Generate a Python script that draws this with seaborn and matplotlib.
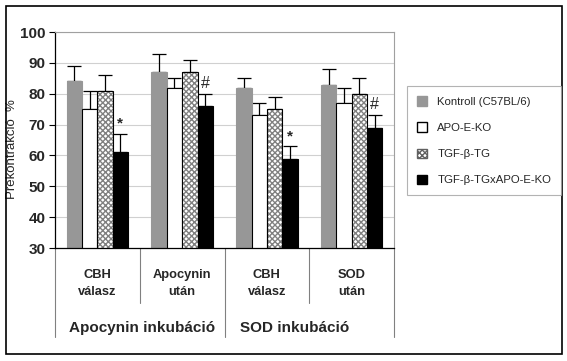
import pandas as pd
import matplotlib.pyplot as plt
import seaborn as sns
from matplotlib.patches import Patch, Rectangle

# Data
categories = ["CBH\nválasz", "Apocynin\nután", "CBH\nválasz ", "SOD\nután"]
groups = ["Kontroll (C57BL/6)", "APO-E-KO", "TGF-β-TG", "TGF-β-TGxAPO-E-KO"]

kontroll = [84, 87, 82, 83]
apoe = [75, 82, 73, 77]
tgf = [81, 87, 75, 80]
tgf_apoe = [61, 76, 59, 69]

kontroll_err = [5, 6, 3, 5]
apoe_err = [6, 3, 4, 5]
tgf_err = [5, 4, 4, 5]
tgf_apoe_err = [6, 4, 4, 4]

marks = ["*", "#", "*", "#"]
group_labels = ["Apocynin inkubáció", "SOD inkubáció"]

values = [kontroll, apoe, tgf, tgf_apoe]
errors = [kontroll_err, apoe_err, tgf_err, tgf_apoe_err]

rows = []
for g, vals in zip(groups, values):
    for c, v in zip(categories, vals):
        rows.append({"Category": c, "Group": g, "Value": v})
df = pd.DataFrame(rows)

sns.set_theme(style="white")
plt.rcParams["font.family"] = ["Liberation Sans", "DejaVu Sans"]

colors = ["#979797", "white", "white", "black"]

fig = plt.figure(figsize=(5.67, 3.61), dpi=100)
ax = fig.add_axes([0.097, 0.313, 0.598, 0.598])

sns.barplot(
    data=df, x="Category", y="Value", hue="Group",
    palette=colors, width=0.725, errorbar=None, legend=False, ax=ax,
    edgecolor="black", linewidth=0.8, zorder=2
)

# Style the bars, add error bars and hatch
bar_groups = list(ax.containers)
for i, cont in enumerate(bar_groups):
    xs = []
    for bar in cont:
        xs.append(bar.get_x() + bar.get_width() / 2)
        if i == 0:
            bar.set_edgecolor("#979797")
        if i == 2:
            bar.set_hatch("xxxxxx")
            bar.set_edgecolor("#808080")
            bar.set_linewidth(0)
            ax.bar(bar.get_x(), bar.get_height(), width=bar.get_width(),
                   align="edge", fill=False, edgecolor="black",
                   linewidth=0.8, zorder=3)
    ax.errorbar(xs, values[i], yerr=[[0] * len(xs), errors[i]], fmt="none",
                ecolor="black", elinewidth=0.9, capsize=5, capthick=0.9,
                zorder=1)
    if i == 3:
        for x, v, e, m in zip(xs, values[i], errors[i], marks):
            ax.text(x, v + e + 1.0, m, ha="center", va="bottom",
                    fontsize=11 if m == "*" else 11.5,
                    fontweight="bold" if m == "*" else "normal")

ax.set_ylim(30, 100)
ax.set_xlim(-0.5, 3.5)
ax.set_yticks(range(30, 101, 10))
ax.set_yticklabels([str(t) for t in range(30, 101, 10)], fontsize=11, fontweight="bold")
ax.yaxis.grid(True, color="#d0d0d0", linewidth=0.8, zorder=0)
ax.set_axisbelow(True)
ax.tick_params(axis="y", left=True, length=4, width=0.8, color="black", pad=3)
ax.tick_params(axis="x", bottom=False, labelbottom=False)
ax.set_xlabel("")
ax.set_ylabel("Prekontrakció  %", fontsize=9.5)
ax.yaxis.set_label_coords(-0.108, 0.46)

for side in ["top", "right"]:
    ax.spines[side].set_color("#a0a0a0")
    ax.spines[side].set_linewidth(0.8)
for side in ["left", "bottom"]:
    ax.spines[side].set_color("black")
    ax.spines[side].set_linewidth(0.9)

# Category table below the axis
trans = ax.get_xaxis_transform()
for x in [-0.5, 1.5, 3.5]:
    ax.plot([x, x], [0, -0.41], transform=trans, clip_on=False, color="#808080", linewidth=0.8)
for x in [0.5, 2.5]:
    ax.plot([x, x], [0, -0.255], transform=trans, clip_on=False, color="#808080", linewidth=0.8)
for i, c in enumerate(categories):
    ax.text(i, -0.165, c.strip(), transform=trans, ha="center", va="center",
            fontsize=9.3, fontweight="bold", linespacing=1.55)
ax.text(0.53, -0.37, group_labels[0], transform=trans, ha="center", va="center",
        fontsize=11, fontweight="bold")
ax.text(2.33, -0.37, group_labels[1], transform=trans, ha="center", va="center",
        fontsize=11, fontweight="bold")

# Legend
handles = [
    Patch(facecolor="#979797", edgecolor="#979797"),
    Patch(facecolor="white", edgecolor="black"),
    Patch(facecolor="white", edgecolor="#606060", hatch="xxxxxx"),
    Patch(facecolor="black", edgecolor="black"),
]
leg = fig.legend(handles, groups, loc="upper left", bbox_to_anchor=(0.707, 0.777),
                 fontsize=8.2, frameon=True, fancybox=False, handlelength=0.9,
                 handleheight=0.9, labelspacing=1.35, borderpad=0.9, handletextpad=0.9)
leg.get_frame().set_edgecolor("#a0a0a0")
leg.get_frame().set_linewidth(0.8)

# Outer border
fig.patches.append(Rectangle((0.011, 0.019), 0.98, 0.963, transform=fig.transFigure,
                             fill=False, edgecolor="black", linewidth=1.2))

fig.savefig("out.png", dpi=100)
